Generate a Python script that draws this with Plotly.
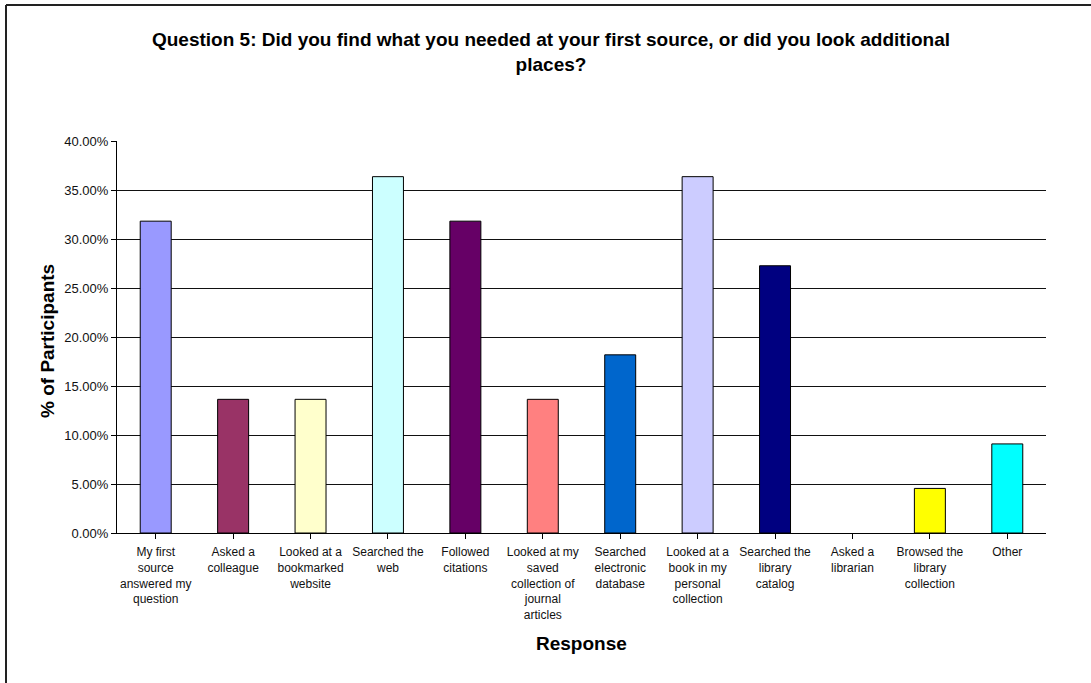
import plotly.graph_objects as go

# Survey responses (share of 22 participants)
categories = [
    "My first<br>source<br>answered my<br>question",
    "Asked a<br>colleague",
    "Looked at a<br>bookmarked<br>website",
    "Searched the<br>web",
    "Followed<br>citations",
    "Looked at my<br>saved<br>collection of<br>journal<br>articles",
    "Searched<br>electronic<br>database",
    "Looked at a<br>book in my<br>personal<br>collection",
    "Searched the<br>library<br>catalog",
    "Asked a<br>librarian",
    "Browsed the<br>library<br>collection",
    "Other",
]
share = [0.3182, 0.1364, 0.1364, 0.3636, 0.3182, 0.1364,
         0.1818, 0.3636, 0.2727, 0.0, 0.0455, 0.0909]
bar_colors = ["#9999FF", "#993366", "#FFFFCC", "#CCFFFF", "#660066", "#FF8080",
              "#0066CC", "#CCCCFF", "#000080", "#FFFFFF", "#FFFF00", "#00FFFF"]

W, H = 1091, 683
L, R, T, B = 117, 45, 141, 150
pw, ph = W - L - R, H - T - B

def px_x(x):
    return (x - L) / pw

def px_y(y):
    return (H - B - y) / ph

font_family = "Liberation Sans, Arial, sans-serif"

# empty categories get no outline so nothing sits on the baseline
outline_widths = [1 if v > 0 else 0 for v in share]

fig = go.Figure(go.Bar(
    x=list(range(len(categories))),
    y=share,
    marker=dict(color=bar_colors, line=dict(color="#000000", width=outline_widths)),
    width=0.4,
    hoverinfo="skip",
))

frame = dict(color="#222222", width=2)

fig.update_layout(
    width=W, height=H,
    margin=dict(l=L, r=R, t=T, b=B),
    paper_bgcolor="white", plot_bgcolor="white",
    showlegend=False,
    font=dict(family=font_family, color="#000000"),
    title=dict(
        text="<b>Question 5: Did you find what you needed at your first source, or did you look additional<br>places?</b>",
        x=551 / W, xanchor="center", xref="container",
        y=1 - 46 / H, yanchor="middle", yref="container",
        font=dict(size=19, family=font_family, color="#000000"),
    ),
    xaxis=dict(
        tickmode="array",
        tickvals=list(range(len(categories))),
        ticktext=categories,
        range=[-0.5, len(categories) - 0.5],
        tickson="boundaries",
        ticks="outside", ticklen=5, tickcolor="#000000",
        showline=True, linecolor="#000000", linewidth=1,
        showgrid=False, zeroline=False,
        tickangle=0,
        ticklabelstandoff=3,
        tickfont=dict(size=12, color="#111111"),
    ),
    yaxis=dict(
        range=[0, 0.4], dtick=0.05, tick0=0,
        tickformat=".2%",
        ticks="outside", ticklen=5, tickcolor="#000000",
        showline=True, linecolor="#000000", linewidth=1,
        showgrid=True, gridcolor="#111111", gridwidth=1,
        zeroline=False,
        tickfont=dict(size=13, color="#111111"),
    ),
    annotations=[
        dict(text="<b>% of Participants</b>", textangle=-90,
             xref="paper", yref="paper", x=px_x(47), y=px_y(341),
             xanchor="center", yanchor="middle", showarrow=False,
             font=dict(size=19, family=font_family, color="#000000")),
        dict(text="<b>Response</b>",
             xref="paper", yref="paper", x=0.5, y=px_y(643),
             xanchor="center", yanchor="middle", showarrow=False,
             font=dict(size=19, family=font_family, color="#000000")),
    ],
    shapes=[
        # chart frame: top and left edges
        dict(type="line", xref="paper", yref="paper",
             x0=px_x(6), x1=px_x(W + 10), y0=px_y(5), y1=px_y(5), line=frame),
        dict(type="line", xref="paper", yref="paper",
             x0=px_x(6), x1=px_x(6), y0=px_y(5), y1=px_y(H + 10), line=frame),
    ],
)

fig.write_html("out.html")
